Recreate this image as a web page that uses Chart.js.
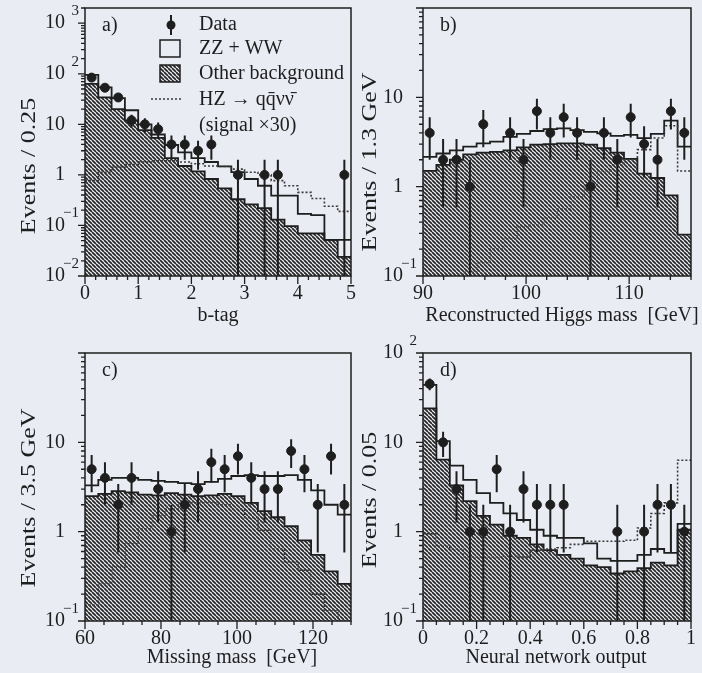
<!DOCTYPE html>
<html>
<head>
<meta charset="utf-8">
<script src="https://cdn.jsdelivr.net/npm/chart.js@4.4.1/dist/chart.umd.min.js"></script>
<style>
  html, body { margin: 0; padding: 0; background: #eaecf4; }
  #wrap { position: relative; width: 702px; height: 673px; overflow: hidden; }
  #wrap canvas { position: absolute; left: 0; top: 0; }
</style>
</head>
<body>
<div id="wrap">
  <canvas id="panelA" width="702" height="673"></canvas>
  <canvas id="panelB" width="702" height="673"></canvas>
  <canvas id="panelC" width="702" height="673"></canvas>
  <canvas id="panelD" width="702" height="673"></canvas>
</div>
<script>
// histogram binning: [low edge, high edge, number of bins]
const aBins = [0, 5, 20];
const bBins = [90, 116, 20];
const cBins = [60, 130, 20];
const dBins = [0, 1, 20];

// a) b-tag
const aData   = [84, 53, 34, 12, 10, 8, 4, 4, 3, 4, 0, 1, 0, 1, 1, 0, 0, 0, 0, 1];
const aOther  = [63, 34, 20, 12, 7.7, 5.4, 2.15, 1.5, 1.17, 0.83, 0.54, 0.33, 0.26, 0.22, 0.13, 0.097, 0.07, 0.07, 0.052, 0.024];
const aTotal  = [95, 54, 33, 19, 10, 6.3, 3.9, 2.8, 2.15, 1.8, 1.47, 1.13, 0.83, 0.61, 0.39, 0.39, 0.17, 0.16, 0.052, 0.052];
const aSignal = [0.77, 1.13, 1.42, 1.6, 1.8, 1.9, 1.9, 1.8, 1.66, 1.5, 1.47, 1.3, 1.13, 1.0, 0.77, 0.61, 0.45, 0.34, 0.24, 0.19];

// b) reconstructed Higgs mass
const bData   = [4, 2, 2, 1, 5, 0, 4, 2, 7, 4, 6, 4, 1, 4, 2, 6, 3, 2, 7, 4];
const bOther  = [1.5, 1.75, 2.0, 2.3, 2.4, 2.45, 2.55, 2.75, 2.95, 3.0, 3.05, 3.05, 2.95, 2.7, 2.4, 2.05, 1.4, 1.25, 0.8, 0.29];
const bTotal  = [2.15, 2.35, 2.55, 2.8, 3.05, 3.2, 3.6, 3.9, 4.2, 4.4, 4.5, 4.3, 4.1, 3.95, 3.7, 3.8, 3.5, 3.9, 5.5, 2.8];
const bSignal = [0.04, 0.06, 0.08, 0.11, 0.14, 0.2, 0.26, 0.35, 0.37, 0.44, 0.56, 0.76, 1.0, 1.45, 1.75, 2.0, 2.6, 3.5, 4.8, 1.5];

// c) missing mass
const cData   = [5, 4, 2, 4, 0, 3, 1, 2, 3, 6, 5, 7, 4, 3, 3, 8, 5, 2, 7, 2];
const cOther  = [2.5, 2.65, 2.85, 2.75, 2.6, 2.55, 2.7, 2.6, 2.5, 2.55, 2.65, 2.5, 2.1, 1.7, 1.45, 1.15, 0.8, 0.55, 0.36, 0.26];
const cTotal  = [3.3, 3.8, 4.0, 4.0, 3.8, 3.7, 3.6, 3.5, 3.4, 3.6, 3.9, 4.2, 4.3, 4.2, 4.2, 4.3, 3.8, 2.9, 2.0, 1.55];
const cSignal = [0.15, 0.26, 0.4, 0.73, 1.07, 1.5, 1.78, 2.0, 2.1, 2.1, 2.0, 1.78, 1.44, 1.03, 0.64, 0.46, 0.37, 0.2, 0.13, 0.1];

// d) neural network output
const dData   = [45, 10, 3, 1, 1, 5, 1, 3, 2, 2, 2, 0, 0, 0, 1, 0, 1, 2, 2, 1];
const dOther  = [24, 6.4, 3.3, 2.2, 1.5, 1.2, 0.9, 0.85, 0.72, 0.62, 0.55, 0.5, 0.42, 0.4, 0.34, 0.36, 0.39, 0.45, 0.42, 1.05];
const dTotal  = [44, 10.3, 5.5, 3.8, 2.7, 2.1, 1.6, 1.35, 1.05, 0.9, 0.85, 0.85, 0.74, 0.5, 0.47, 0.47, 0.55, 0.64, 0.58, 1.22];
const dSignal = [0.95, 0.68, 0.64, 0.52, 0.52, 0.52, 0.53, 0.52, 0.62, 0.64, 0.66, 0.72, 0.78, 0.78, 0.78, 0.8, 1.1, 1.6, 2.1, 6.3];

// tick labels (y labels are powers of ten)
const aXLabels = [0, 1, 2, 3, 4, 5];
const bXLabels = [90, 100, 110];
const cXLabels = [60, 80, 100, 120];
const dXLabels = [0, 0.2, 0.4, 0.6, 0.8, 1];
const aYLabels = [-2, -1, 0, 1, 2, 3];
const bYLabels = [-1, 0, 1];
const cYLabels = [-1, 0, 1];
const dYLabels = [-1, 0, 1, 2];

const INK = '#1e1e1e';
const FONT = '"Liberation Serif", "DejaVu Serif", serif';

const panels = [
  { id: 'panelA', bins: aBins, data: aData, other: aOther, total: aTotal, signal: aSignal,
    xLabels: aXLabels, xMinor: 0.2, yLabels: aYLabels, yMin: 0.01, yMax: 2000,
    area: [85, 8, 351, 276], tag: 'a)', xTitle: 'b-tag', xTitlePos: [218, 316],
    yTitle: 'Events / 0.25', yTitlePos: [29, 166], legend: true },
  { id: 'panelB', bins: bBins, data: bData, other: bOther, total: bTotal, signal: bSignal,
    xLabels: bXLabels, xMinor: 2, yLabels: bYLabels, yMin: 0.1, yMax: 100,
    area: [423, 8, 691, 276], tag: 'b)', xTitle: 'Reconstructed Higgs mass  [GeV]', xTitlePos: [562, 316],
    yTitle: 'Events / 1.3 GeV', yTitlePos: [370, 162] },
  { id: 'panelC', bins: cBins, data: cData, other: cOther, total: cTotal, signal: cSignal,
    xLabels: cXLabels, xMinor: 5, yLabels: cYLabels, yMin: 0.1, yMax: 100,
    area: [85, 353, 351, 621], tag: 'c)', xTitle: 'Missing mass  [GeV]', xTitlePos: [232, 658],
    yTitle: 'Events / 3.5 GeV', yTitlePos: [29, 498] },
  { id: 'panelD', bins: dBins, data: dData, other: dOther, total: dTotal, signal: dSignal,
    xLabels: dXLabels, xMinor: 0.05, yLabels: dYLabels, yMin: 0.1, yMax: 100,
    area: [423, 353, 691, 621], tag: 'd)', xTitle: 'Neural network output', xTitlePos: [556, 658],
    yTitle: 'Events / 0.05', yTitlePos: [370, 500] }
];

function hatch(ctx) {
  const c = document.createElement('canvas');
  c.width = c.height = 4;
  const g = c.getContext('2d');
  g.fillStyle = '#eceef4';
  g.fillRect(0, 0, 4, 4);
  g.strokeStyle = '#262626';
  g.lineWidth = 1.7;
  for (const k of [-1, 0, 1]) {
    g.beginPath();
    g.moveTo(k * 4, 0);
    g.lineTo(k * 4 + 4, 4);
    g.stroke();
  }
  return ctx.createPattern(c, 'repeat');
}

function powLabel(ctx, e, x, y) {
  ctx.textBaseline = 'middle';
  ctx.textAlign = 'right';
  ctx.font = '20px ' + FONT;
  if (e === 0) { ctx.fillText('1', x - 20, y); return; }
  ctx.fillText('10', x - 20, y);
  if (e === 1) return;
  ctx.font = '15px ' + FONT;
  ctx.fillText(String(e).replace('-', '\u2212'), x - 6, y - 12);
}

function panelPlugin(p, pattern) {
  return {
    id: 'frame_' + p.id,
    afterDatasetsDraw(chart) {
      const ctx = chart.ctx;
      const area = chart.chartArea;
      const xs = chart.scales.x;
      const ys = chart.scales.y;
      ctx.save();
      ctx.strokeStyle = INK;
      ctx.fillStyle = INK;
      ctx.lineWidth = 1.5;
      ctx.strokeRect(area.left, area.top, area.right - area.left, area.bottom - area.top);

      // x ticks
      const [lo, hi] = p.bins;
      const nTicks = Math.round((hi - lo) / p.xMinor);
      ctx.lineWidth = 1.3;
      ctx.beginPath();
      for (let i = 0; i <= nTicks; i++) {
        const v = lo + i * p.xMinor;
        const px = xs.getPixelForValue(v);
        const major = p.xLabels.some(t => Math.abs(t - v) < 1e-6);
        ctx.moveTo(px, area.bottom);
        ctx.lineTo(px, area.bottom + (major ? 8 : 4));
      }
      // y ticks
      const e0 = Math.floor(Math.log10(p.yMin));
      const e1 = Math.ceil(Math.log10(p.yMax));
      for (let e = e0; e <= e1; e++) {
        for (let m = 1; m <= 9; m++) {
          const v = m * Math.pow(10, e);
          if (v < p.yMin * 0.999 || v > p.yMax * 1.001) continue;
          const py = ys.getPixelForValue(v);
          ctx.moveTo(area.left, py);
          ctx.lineTo(area.left - (m === 1 ? 7 : 4), py);
        }
      }
      ctx.stroke();

      // x tick labels
      ctx.font = '20px ' + FONT;
      ctx.textAlign = 'center';
      ctx.textBaseline = 'middle';
      p.xLabels.forEach(v => ctx.fillText(String(v), xs.getPixelForValue(v), area.bottom + 18));
      // y tick labels
      p.yLabels.forEach(e => powLabel(ctx, e, area.left, ys.getPixelForValue(Math.pow(10, e))));

      // axis titles
      ctx.font = '20px ' + FONT;
      ctx.textAlign = 'center';
      ctx.fillText(p.xTitle, p.xTitlePos[0], p.xTitlePos[1]);
      ctx.save();
      ctx.translate(p.yTitlePos[0], p.yTitlePos[1]);
      ctx.rotate(-Math.PI / 2);
      ctx.scale(1.18, 1);
      ctx.font = '22px ' + FONT;
      ctx.fillText(p.yTitle, 0, 0);
      ctx.restore();

      // panel letter
      ctx.textAlign = 'left';
      ctx.font = '20px ' + FONT;
      ctx.fillText(p.tag, area.left + 17, area.top + 18);

      if (p.legend) {
        const tx = 199;
        ctx.fillText('Data', tx, 25);
        ctx.fillText('ZZ + WW', tx, 49);
        ctx.fillText('Other background', tx, 74);
        ctx.fillText('HZ \u2192 qq\u0304\u03BD\u03BD\u0304', tx, 100);
        ctx.fillText('(signal \u00D730)', tx, 126);
        // data marker
        ctx.lineWidth = 2;
        ctx.beginPath();
        ctx.moveTo(171, 15); ctx.lineTo(171, 35);
        ctx.stroke();
        ctx.beginPath();
        ctx.arc(171, 25, 4.5, 0, Math.PI * 2);
        ctx.fill();
        // boxes
        ctx.lineWidth = 1.5;
        ctx.strokeRect(160, 40, 20, 17);
        ctx.fillStyle = pattern;
        ctx.fillRect(160, 65, 20, 17);
        ctx.strokeRect(160, 65, 20, 17);
        // dotted signal line
        ctx.strokeStyle = '#3a3a3a';
        ctx.setLineDash([2, 2]);
        ctx.beginPath();
        ctx.moveTo(151, 99); ctx.lineTo(182, 99);
        ctx.stroke();
      }
      ctx.restore();
    }
  };
}

panels.forEach(p => {
  const canvas = document.getElementById(p.id);
  const pattern = hatch(canvas.getContext('2d'));
  const [lo, hi, n] = p.bins;
  const w = (hi - lo) / n;
  // histogram outline: flat top over each bin
  const steps = vals => vals.flatMap((v, i) => [{ x: lo + i * w, y: v }, { x: lo + (i + 1) * w, y: v }]);
  const points = [];
  const errors = [];
  p.data.forEach((c, i) => {
    if (c <= 0) return;
    const x = lo + (i + 0.5) * w;
    points.push({ x, y: c });
    errors.push({ x, y: Math.max(c - Math.sqrt(c), p.yMin) }, { x, y: c + Math.sqrt(c) }, { x, y: null });
  });

  new Chart(canvas, {
    type: 'line',
    data: {
      datasets: [
        { label: 'Data', data: points, showLine: false, pointRadius: 4.5,
          pointBackgroundColor: INK, pointBorderColor: INK },
        { label: 'errors', data: errors, borderColor: INK, borderWidth: 2, pointRadius: 0, spanGaps: false },
        { label: 'HZ signal x30', data: steps(p.signal), borderColor: '#3a3a3a', borderWidth: 1.6,
          borderDash: [2, 2], pointRadius: 0, fill: false },
        { label: 'ZZ + WW', data: steps(p.total), borderColor: INK, borderWidth: 1.8, pointRadius: 0, fill: false },
        { label: 'Other background', data: steps(p.other), borderColor: INK, borderWidth: 1.8, pointRadius: 0,
          fill: 'start', backgroundColor: pattern }
      ]
    },
    options: {
      responsive: false,
      animation: false,
      events: [],
      layout: { padding: { left: 0, top: p.area[1], right: 702 - p.area[2], bottom: 0 } },
      scales: {
        x: { type: 'linear', min: lo, max: hi,
             ticks: { display: false }, grid: { display: false }, border: { display: false },
             afterFit: s => { s.height = 673 - p.area[3]; } },
        y: { type: 'logarithmic', min: p.yMin, max: p.yMax,
             ticks: { display: false }, grid: { display: false }, border: { display: false },
             afterFit: s => { s.width = p.area[0]; } }
      },
      plugins: { legend: { display: false }, tooltip: { enabled: false } }
    },
    plugins: [panelPlugin(p, pattern)]
  });
});
</script>
</body>
</html>
